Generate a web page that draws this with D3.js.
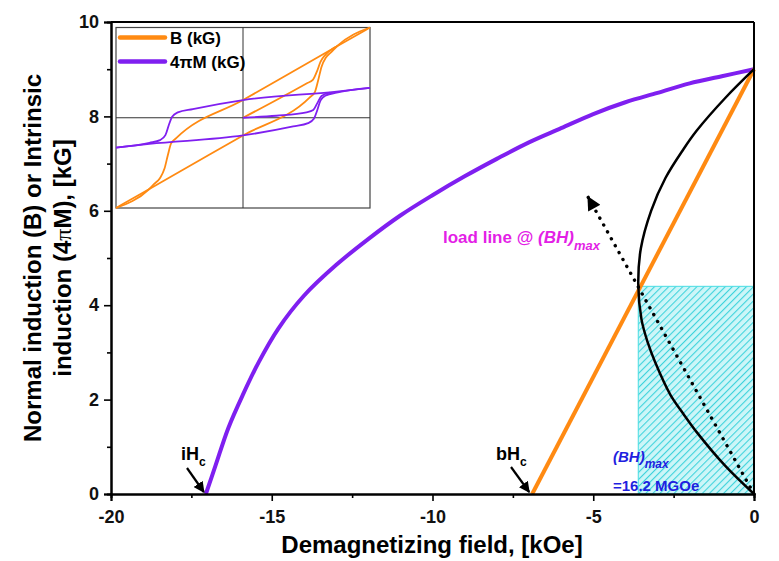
<!DOCTYPE html>
<html>
<head>
<meta charset="utf-8">
<title>Demagnetization curves</title>
<script src="https://d3js.org/d3.v7.min.js"></script>
<style>
  body { margin: 0; background: #fff; }
  svg text { font-family: Arial, "Liberation Sans", sans-serif; font-weight: bold; }
</style>
</head>
<body>
<div id="container"></div>
<script>
// ---- main chart data (H in kOe, B in kG) ----
const intrH = [-17.05, -16.75, -16.35, -15.9, -15.4, -14.8, -14.0, -13.0, -12.0, -11.0, -10.0, -9.0, -8.0, -7.0, -6.0, -5.0, -4.0, -3.0, -2.0, -1.0, 0]
const intrB = [0, 0.6, 1.4, 2.1, 2.8, 3.5, 4.2, 4.85, 5.4, 5.9, 6.33, 6.73, 7.1, 7.45, 7.75, 8.05, 8.3, 8.5, 8.7, 8.85, 9.0]
const normH = [-6.9, 0]
const normB = [0, 9.0]
const bhH = [0, -0.9, -1.77, -2.2, -2.6, -3.08, -3.3, -3.5, -3.6, -3.52, -3.2, -2.75, -2.2, -1.78, -0.88, 0]
const bhB = [0, 0.6, 1.3, 1.7, 2.1, 2.8, 3.2, 3.7, 4.45, 5.2, 6.0, 6.7, 7.3, 7.7, 8.4, 9.0]
const loadH = [0, -5.16]
const loadB = [0, 6.29]
const boxH = [-3.6, 0]
const boxB = [0, 4.4]
const xTicks = [-20, -15, -10, -5, 0]
const yTicks = [0, 2, 4, 6, 8, 10]

// ---- inset hysteresis loops (normalized units) ----
const bUpU = [-1, -0.74, -0.697, -0.653, -0.618, -0.592, -0.566, -0.526, 0, 0.737, 1]
const bUpV = [-1, -0.792, -0.73, -0.667, -0.563, -0.415, -0.285, -0.227, 0.196, 0.789, 1]
const bLoU = [-1, -0.737, 0, 0.526, 0.566, 0.592, 0.618, 0.653, 0.697, 0.74, 1]
const bLoV = [-1, -0.789, -0.196, 0.227, 0.285, 0.415, 0.563, 0.667, 0.73, 0.792, 1]
const bVirU = [0, 0.5, 0.55, 0.584, 0.61, 0.65, 0.7, 0.74]
const bVirV = [0, 0.38, 0.42, 0.52, 0.62, 0.7, 0.76, 0.792]
const mUpU = [-1, -0.737, -0.653, -0.611, -0.584, -0.558, -0.513, -0.395, 0, 0.737, 1]
const mUpV = [-0.33, -0.278, -0.248, -0.193, -0.081, 0.011, 0.059, 0.096, 0.196, 0.289, 0.33]
const mLoU = [-1, -0.737, 0, 0.395, 0.513, 0.558, 0.584, 0.611, 0.653, 0.737, 1]
const mLoV = [-0.33, -0.289, -0.196, -0.096, -0.059, -0.011, 0.081, 0.193, 0.248, 0.278, 0.33]
const mVirU = [0, 0.263, 0.5, 0.553, 0.584, 0.618, 0.684]
const mVirV = [0, 0.022, 0.059, 0.085, 0.159, 0.241, 0.278]

const orange = "#ff8a12"
const purple = "#7f1ff0"

const w = 779
const h = 561
const m = {left: 111, right: 25, top: 22, bottom: 67}

const zip = (a, b) => a.map((v, i) => [v, b[i]])

const svg = d3.select("#container").append("svg")
  .attr("width", w)
  .attr("height", h)

const x = d3.scaleLinear().domain([-20, 0]).range([m.left, w - m.right])
const y = d3.scaleLinear().domain([0, 10]).range([h - m.bottom, m.top])

// hatch pattern for (BH)max box
const defs = svg.append("defs")
const pat = defs.append("pattern")
  .attr("id", "hatch")
  .attr("patternUnits", "userSpaceOnUse")
  .attr("width", 5).attr("height", 5)
  .attr("patternTransform", "rotate(45)")
pat.append("rect").attr("width", 5).attr("height", 5).attr("fill", "#cdf6f8")
pat.append("line").attr("x1", 0).attr("y1", 0).attr("x2", 0).attr("y2", 5)
  .attr("stroke", "#3fd3dc").attr("stroke-width", 2.2)

defs.append("marker")
  .attr("id", "arrow")
  .attr("viewBox", "0 0 10 10")
  .attr("refX", 9).attr("refY", 5)
  .attr("markerWidth", 5).attr("markerHeight", 5)
  .attr("markerUnits", "strokeWidth")
  .attr("orient", "auto")
  .append("path").attr("d", "M0,0 L10,5 L0,10 z").attr("fill", "#000")

defs.append("marker")
  .attr("id", "bigarrow")
  .attr("viewBox", "0 0 10 10")
  .attr("refX", 9).attr("refY", 5)
  .attr("markerWidth", 18).attr("markerHeight", 14)
  .attr("markerUnits", "userSpaceOnUse")
  .attr("orient", "auto")
  .append("path").attr("d", "M0,0 L10,5 L0,10 z").attr("fill", "#000")

// (BH)max box
svg.append("rect")
  .attr("x", x(boxH[0]))
  .attr("y", y(boxB[1]))
  .attr("width", x(boxH[1]) - x(boxH[0]))
  .attr("height", y(boxB[0]) - y(boxB[1]))
  .attr("fill", "url(#hatch)")
  .attr("stroke", "#49dde3")
  .attr("stroke-width", 1)

const line = d3.line().x(d => x(d[0])).y(d => y(d[1]))

// intrinsic curve
svg.append("path")
  .attr("d", line.curve(d3.curveCatmullRom)(zip(intrH, intrB)))
  .attr("fill", "none").attr("stroke", purple).attr("stroke-width", 4)

// normal line
svg.append("path")
  .attr("d", line.curve(d3.curveLinear)(zip(normH, normB)))
  .attr("fill", "none").attr("stroke", orange).attr("stroke-width", 4)

// BH product curve
svg.append("path")
  .attr("d", line.curve(d3.curveCatmullRom)(zip(bhH, bhB)))
  .attr("fill", "none").attr("stroke", "#000").attr("stroke-width", 2.5)

// load line
svg.append("path")
  .attr("d", line.curve(d3.curveLinear)(zip(loadH, loadB)))
  .attr("fill", "none").attr("stroke", "#000").attr("stroke-width", 3.4)
  .attr("stroke-dasharray", "0.1 7.8").attr("stroke-linecap", "round")
  .attr("marker-end", "url(#bigarrow)")

// axes
const fmt = d => String(d)
const xAxis = d3.axisBottom(x).tickValues(xTicks).tickSize(7).tickPadding(9).tickFormat(fmt)
const xMinor = d3.axisBottom(x).tickValues(d3.range(-17.5, 0, 5)).tickSize(4).tickFormat("")
const yAxis = d3.axisLeft(y).tickValues(yTicks).tickSize(7).tickPadding(5).tickFormat(fmt)
const yMinor = d3.axisLeft(y).tickValues(d3.range(1, 10, 2)).tickSize(4).tickFormat("")

svg.append("g").attr("transform", `translate(0,${h - m.bottom})`).call(xAxis)
svg.append("g").attr("transform", `translate(0,${h - m.bottom})`).call(xMinor)
svg.append("g").attr("transform", `translate(${m.left},0)`).call(yAxis)
svg.append("g").attr("transform", `translate(${m.left},0)`).call(yMinor)
svg.selectAll(".domain").attr("stroke-width", 2)
svg.selectAll(".tick line").attr("stroke-width", 1.6)
svg.selectAll(".tick text").attr("font-size", 18).attr("font-weight", "bold").attr("fill", "#111")

// frame top and right
svg.append("line").attr("x1", m.left).attr("x2", w - m.right).attr("y1", m.top).attr("y2", m.top)
  .attr("stroke", "#000").attr("stroke-width", 2)
svg.append("line").attr("x1", w - m.right).attr("x2", w - m.right).attr("y1", m.top).attr("y2", h - m.bottom)
  .attr("stroke", "#000").attr("stroke-width", 2)

// axis titles
svg.append("text")
  .attr("x", 432).attr("y", 553)
  .attr("text-anchor", "middle").attr("font-size", 24)
  .text("Demagnetizing field, [kOe]")

const yt = svg.append("text")
  .attr("transform", `translate(41,${(m.top + h - m.bottom) / 2}) rotate(-90)`)
  .attr("text-anchor", "middle").attr("font-size", 24)
yt.append("tspan").attr("x", 0).attr("dy", 0).text("Normal induction (B) or Intrinsic")
const yt2 = yt.append("tspan").attr("x", 0).attr("dy", 30)
yt2.append("tspan").text("induction (4")
yt2.append("tspan").attr("font-family", "'Liberation Serif', serif").attr("font-weight", "normal").text("π")
yt2.append("tspan").text("M), [kG]")

// annotations
const hc = (label, lx, ly, ax1, ay1, ax2, ay2) => {
  const t = svg.append("text").attr("x", lx).attr("y", ly).attr("font-size", 18)
  t.append("tspan").text(label)
  t.append("tspan").attr("font-size", 12).attr("dy", 6).text("c")
  svg.append("line")
    .attr("x1", ax1).attr("y1", ay1).attr("x2", ax2).attr("y2", ay2)
    .attr("stroke", "#000").attr("stroke-width", 2.2)
    .attr("marker-end", "url(#arrow)")
}
hc("iH", 181, 460, 187, 468, x(intrH[0]) - 2, y(0) - 2)
hc("bH", 496, 460, 511, 467, x(normH[0]) - 3, y(0) - 2)

const ll = svg.append("text").attr("x", 443).attr("y", 243).attr("font-size", 17).attr("fill", "#e31fe6")
ll.append("tspan").text("load line @ ")
ll.append("tspan").attr("font-style", "italic").text("(BH)")
ll.append("tspan").attr("font-style", "italic").attr("font-size", 13).attr("dy", 7).text("max")

const bm = svg.append("text").attr("x", 613).attr("y", 462).attr("font-size", 15).attr("fill", "#1f1fe0")
bm.append("tspan").attr("font-style", "italic").text("(BH)")
bm.append("tspan").attr("font-style", "italic").attr("font-size", 12).attr("dy", 6).text("max")
svg.append("text").attr("x", 613).attr("y", 491).attr("font-size", 15).attr("fill", "#1f1fe0")
  .text("=16.2 MGOe")

// ---- inset ----
const ix = d3.scaleLinear().domain([-1, 1]).range([116, 370])
const iy = d3.scaleLinear().domain([-1, 1]).range([208, 27.5])
const inset = svg.append("g")
inset.append("rect")
  .attr("x", ix(-1)).attr("y", iy(1))
  .attr("width", ix(1) - ix(-1)).attr("height", iy(-1) - iy(1))
  .attr("fill", "#fff").attr("stroke", "#444").attr("stroke-width", 1.2)
inset.append("line").attr("x1", ix(0)).attr("x2", ix(0)).attr("y1", iy(1)).attr("y2", iy(-1))
  .attr("stroke", "#333").attr("stroke-width", 1)
inset.append("line").attr("x1", ix(-1)).attr("x2", ix(1)).attr("y1", iy(0)).attr("y2", iy(0))
  .attr("stroke", "#333").attr("stroke-width", 1)

const iline = d3.line().x(d => ix(d[0])).y(d => iy(d[1])).curve(d3.curveMonotoneX)
const loops = [
  [bUpU, bUpV, orange], [bLoU, bLoV, orange], [bVirU, bVirV, orange],
  [mUpU, mUpV, purple], [mLoU, mLoV, purple], [mVirU, mVirV, purple]
]
loops.forEach(([u, v, c]) => {
  inset.append("path")
    .attr("d", iline(zip(u, v)))
    .attr("fill", "none").attr("stroke", c).attr("stroke-width", 1.8)
})

// inset legend
const legend = [["B (kG)", orange], ["4πM (kG)", purple]]
legend.forEach(([label, c], i) => {
  const ly = 37.5 + i * 24
  inset.append("line").attr("x1", 120).attr("x2", 165).attr("y1", ly).attr("y2", ly)
    .attr("stroke", c).attr("stroke-width", 4.5).attr("stroke-linecap", "round")
  inset.append("text").attr("x", 170).attr("y", ly + 6).attr("font-size", 17).text(label)
})
</script>
</body>
</html>
